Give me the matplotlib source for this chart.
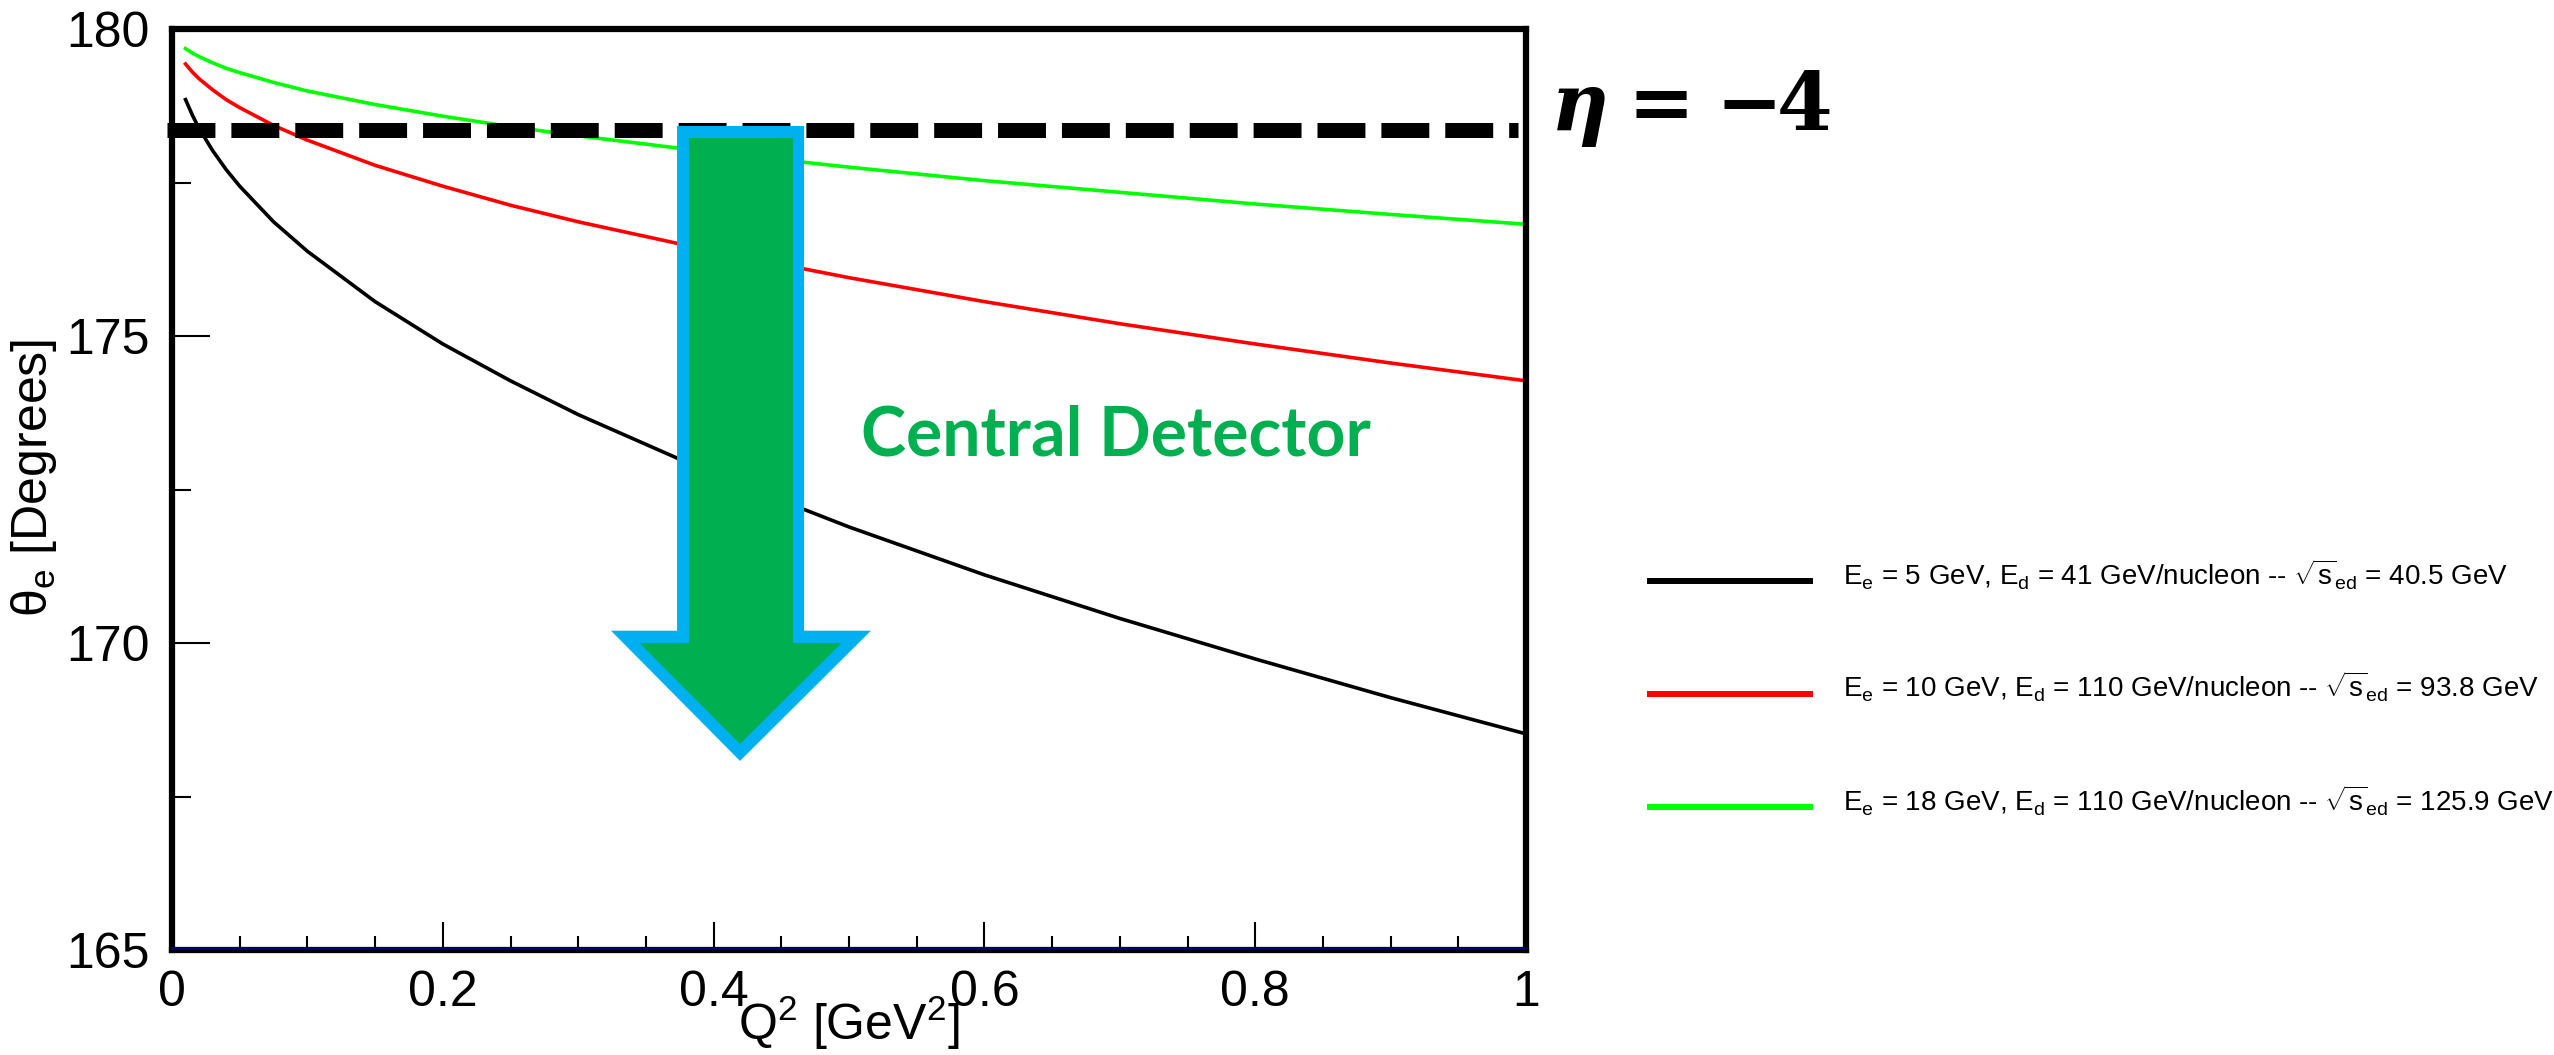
import matplotlib.pyplot as plt
from matplotlib.patches import Polygon
from matplotlib.lines import Line2D
from matplotlib.ticker import MultipleLocator

plt.rcParams['font.family'] = ['Liberation Sans', 'DejaVu Sans']
plt.rcParams['mathtext.fontset'] = 'custom'
plt.rcParams['mathtext.rm'] = 'Liberation Sans'
plt.rcParams['mathtext.it'] = 'Liberation Sans:italic'
plt.rcParams['mathtext.bf'] = 'Liberation Sans:bold'
plt.rcParams['lines.scale_dashes'] = False

# Q^2 [GeV^2] and electron scattering angle [deg] for the three beam setups
q2 = [0.01, 0.015, 0.02, 0.03, 0.04, 0.05, 0.075, 0.1, 0.15, 0.2,
      0.25, 0.3, 0.4, 0.5, 0.6, 0.7, 0.8, 0.9, 1.0]
theta_5x41 = [178.85, 178.60, 178.38, 178.02, 177.71, 177.44, 176.86, 176.38, 175.56, 174.87,
              174.27, 173.72, 172.75, 171.89, 171.11, 170.40, 169.74, 169.11, 168.52]
theta_10x110 = [179.43, 179.30, 179.19, 179.01, 178.85, 178.72, 178.43, 178.19, 177.78, 177.44,
                177.13, 176.86, 176.38, 175.95, 175.56, 175.20, 174.87, 174.56, 174.27]
theta_18x110 = [179.68, 179.61, 179.55, 179.45, 179.36, 179.29, 179.13, 178.99, 178.77, 178.58,
                178.41, 178.26, 177.99, 177.75, 177.53, 177.34, 177.15, 176.98, 176.82]

series = [theta_5x41, theta_10x110, theta_18x110]
colors = ['black', '#ff0000', '#00ff00']
labels = [
    r'E$_{\mathrm{e}}$ = 5 GeV, E$_{\mathrm{d}}$ = 41 GeV/nucleon -- $\sqrt{\mathrm{s}}_{\mathrm{ed}}$ = 40.5 GeV',
    r'E$_{\mathrm{e}}$ = 10 GeV, E$_{\mathrm{d}}$ = 110 GeV/nucleon -- $\sqrt{\mathrm{s}}_{\mathrm{ed}}$ = 93.8 GeV',
    r'E$_{\mathrm{e}}$ = 18 GeV, E$_{\mathrm{d}}$ = 110 GeV/nucleon -- $\sqrt{\mathrm{s}}_{\mathrm{ed}}$ = 125.9 GeV',
]

x_ticks = [0, 0.2, 0.4, 0.6, 0.8, 1.0]
x_tick_labels = ['0', '0.2', '0.4', '0.6', '0.8', '1']
y_ticks = [165, 170, 175, 180]
y_tick_labels = ['165', '170', '175', '180']

# theta at the eta = -4 acceptance edge
eta_edge = 178.36

W, H = 2554, 1055
fig = plt.figure(figsize=(W / 100, H / 100), dpi=100)
ax = fig.add_axes([172 / W, 1 - 950 / H, 1354 / W, 921 / H])
ax.set_xlim(0, 1)
ax.set_ylim(165, 180)

for s in ax.spines.values():
    s.set_linewidth(4.5)

for th, c in zip(series, colors):
    ax.plot(q2, th, color=c, lw=2.6, zorder=2)

ax.set_xticks(x_ticks)
ax.set_xticklabels(x_tick_labels)
ax.set_yticks(y_ticks)
ax.set_yticklabels(y_tick_labels)
ax.xaxis.set_minor_locator(MultipleLocator(0.05))
ax.yaxis.set_minor_locator(MultipleLocator(2.5))
ax.tick_params(axis='x', which='major', direction='in', length=20, width=1.5, pad=14.4, labelsize=36)
ax.tick_params(axis='x', which='minor', direction='in', length=10, width=1.5)
ax.tick_params(axis='y', which='major', direction='in', length=27.5, width=1.5, pad=15.8, labelsize=36)
ax.tick_params(axis='y', which='minor', direction='in', length=13.7, width=1.5)

# thin navy line along the lower frame
ax.axhline(165.03, color='#000080', lw=1.8, zorder=3, clip_on=False)

# dashed acceptance line
ax.plot([-0.004, 0.994], [eta_edge, eta_edge], color='black', lw=10.8,
        dashes=(34.5, 11.5), clip_on=False, zorder=4)

# arrow pointing into the central detector region
outer = [(0.3730, 178.42), (0.4668, 178.42), (0.4668, 170.20), (0.5162, 170.20),
         (0.4195, 168.08), (0.3242, 170.20), (0.3730, 170.20)]
inner = [(0.3818, 178.225), (0.4586, 178.225), (0.4586, 170.00), (0.4945, 170.00),
         (0.4195, 168.355), (0.3452, 170.00), (0.3818, 170.00)]
ax.add_patch(Polygon(outer, closed=True, facecolor='#00b0f0', edgecolor='none', zorder=5, clip_on=False))
ax.add_patch(Polygon(inner, closed=True, facecolor='#00b050', edgecolor='none', zorder=5, clip_on=False))

ax.text(0.697, 173.37, 'Central Detector', color='#00b050', fontsize=49,
        fontweight='bold', family='Lato', ha='center', va='center', zorder=6)

# axis titles
fig.text(34 / W, 1 - 478 / H, r'θ$_{\mathrm{e}}$ [Degrees]', rotation=90,
         ha='center', va='center', fontsize=36)
fig.text(849 / W, 1 - 1040 / H, r'Q$^{2}$ [GeV$^{2}$]', ha='center', va='baseline', fontsize=36)

# eta = -4 label
base = 1 - 130 / H
fig.text(1580 / W, base, 'η', family='DejaVu Serif', fontweight='bold', fontstyle='italic',
         fontsize=57.6, ha='center', va='baseline')
fig.text(1661 / W, base, '=', family='DejaVu Serif', fontweight='bold',
         fontsize=57.6, ha='center', va='baseline')
fig.text(1749 / W, base, '−', family='DejaVu Serif', fontweight='bold',
         fontsize=57.6, ha='center', va='baseline')
fig.text(1805 / W, base, '4', family='DejaVu Serif', fontweight='bold',
         fontsize=57.6, ha='center', va='baseline')

# legend
rows = [581, 694, 807]
for y, c, lab in zip(rows, colors, labels):
    fig.add_artist(Line2D([1650 / W, 1810 / W], [1 - y / H, 1 - y / H], color=c, lw=4.3))
    fig.text(1843 / W, 1 - (y + 4) / H, lab, fontsize=20, va='baseline')

fig.savefig('out.png', dpi=100)
